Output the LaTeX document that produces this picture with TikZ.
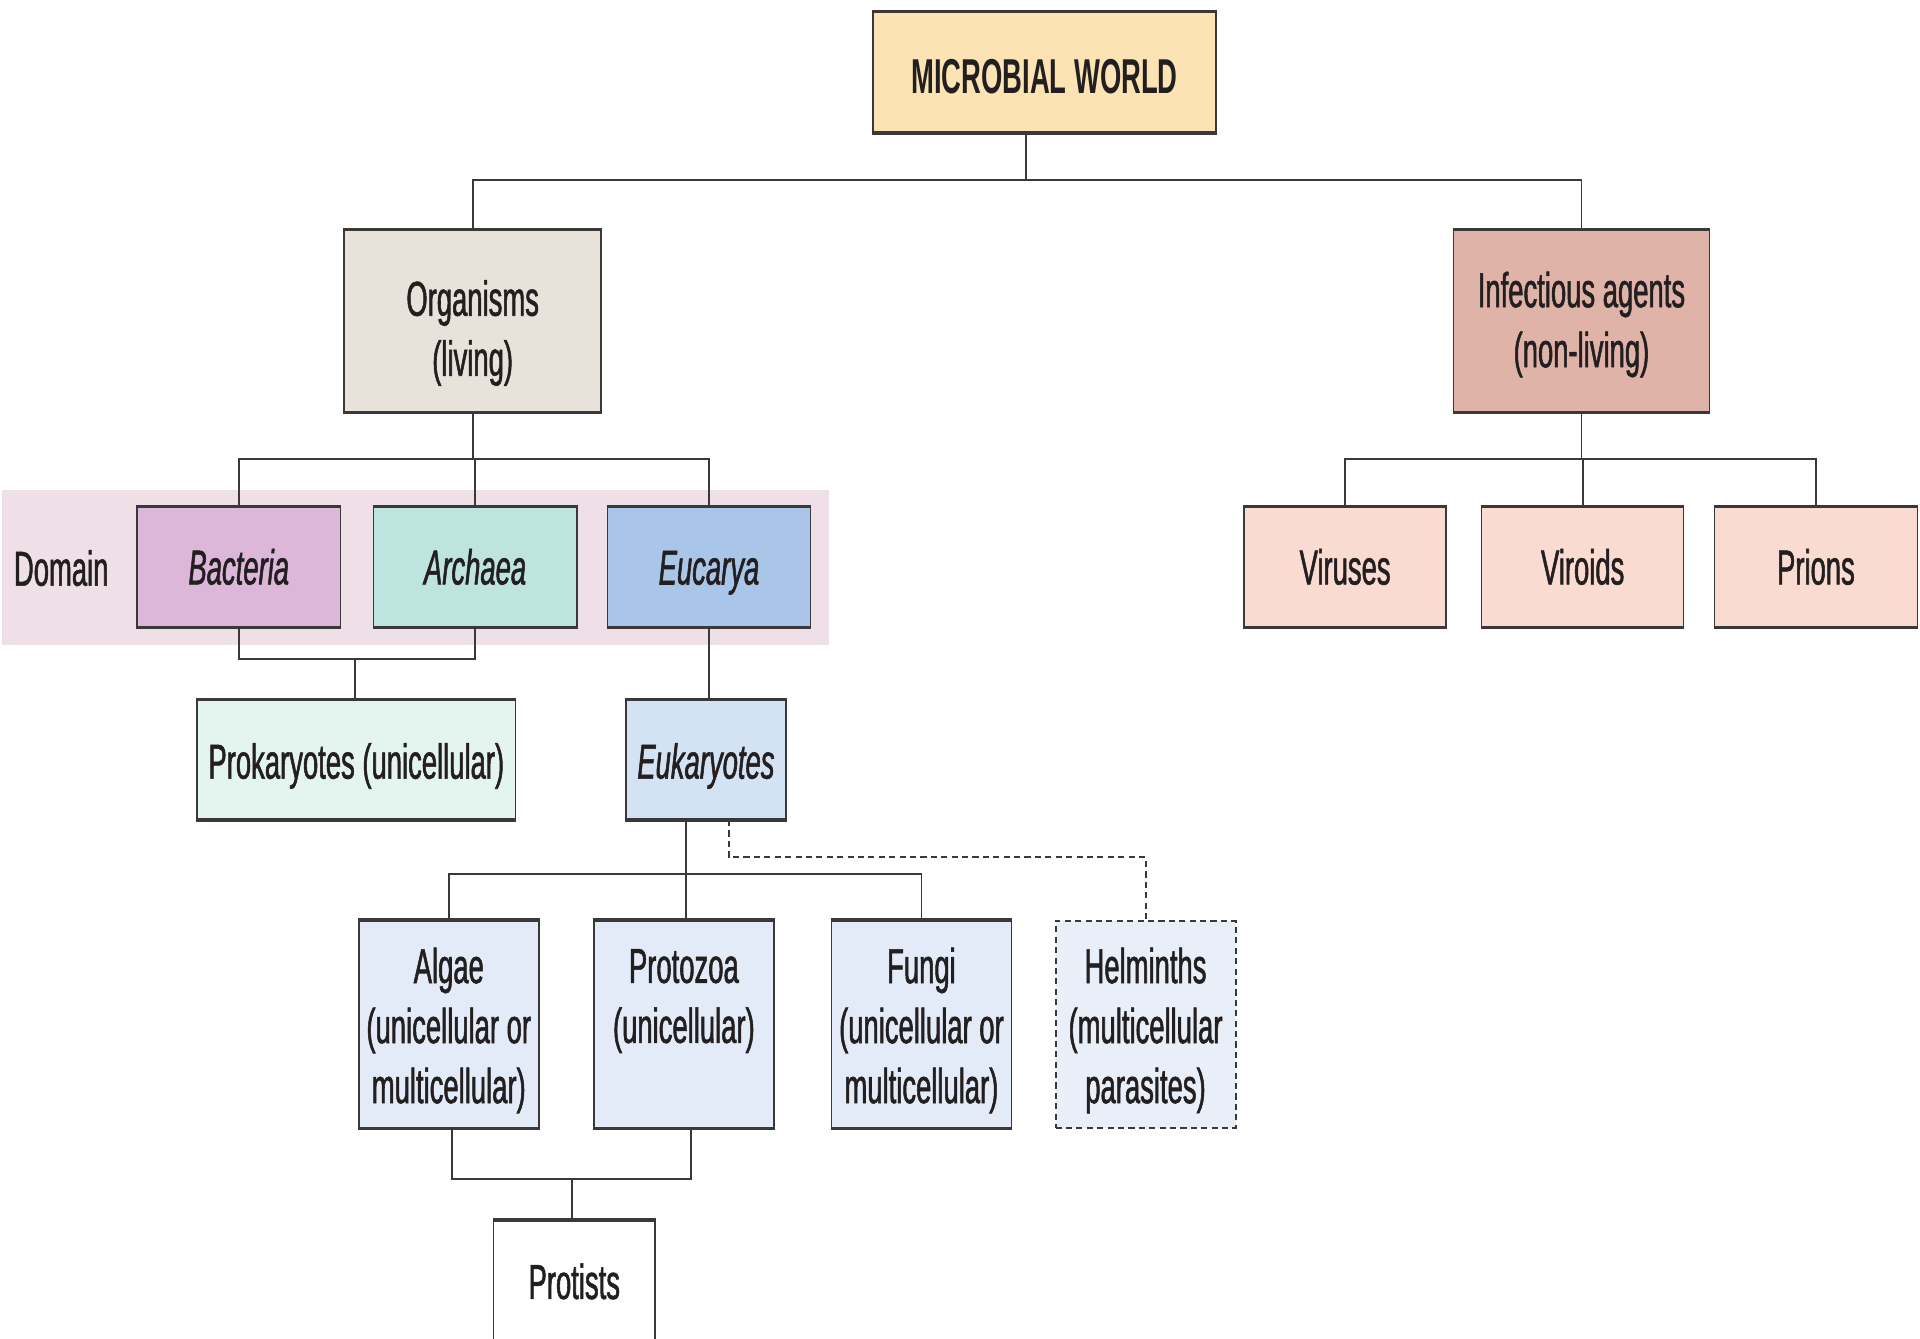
\documentclass[tikz,border=0pt]{standalone}
\usepackage{fontspec}
\setmainfont{Liberation Sans}[FakeStretch=0.56, UprightFeatures={FakeBold=1.1}, ItalicFeatures={FakeBold=1.1}]
\usetikzlibrary{calc}
\newcommand\toppad[1]{\rule{0pt}{#1pt}}
\definecolor{edge}{HTML}{3A3838}
\definecolor{ink}{HTML}{231F20}
\definecolor{cworld}{HTML}{FCE3B4}
\definecolor{corg}{HTML}{E8E2DA}
\definecolor{cinf}{HTML}{E0B3A9}
\definecolor{cvir}{HTML}{FADBD2}
\definecolor{cband}{HTML}{EEE0E6}
\definecolor{cbac}{HTML}{DDB7D9}
\definecolor{carc}{HTML}{BEE4DF}
\definecolor{ceuc}{HTML}{A9C6E8}
\definecolor{cpro}{HTML}{E4F4EF}
\definecolor{ceuk}{HTML}{D4E3F4}
\definecolor{calg}{HTML}{E2EBF7}
\definecolor{chel}{HTML}{E9EFF8}
\begin{document}
\begin{tikzpicture}[x=1pt,y=-1pt,
  box/.style={draw=edge, line width=1.3pt, inner sep=0pt, text=ink, align=center,
    font=\fontsize{40}{49}\selectfont},
  wh/.style 2 args={minimum width=#1pt, minimum height=#2pt},
  conn/.style={draw=edge, line width=1.5pt},
  dconn/.style={draw=edge, line width=1.6pt, dash pattern=on 5pt off 3.5pt},
  thickedge/.style={draw=edge, line width=2.6pt}]
\useasboundingbox (0,0) rectangle (1568,1093.5);

% domain band
\node[fill=cband, inner sep=0pt, minimum width=675pt, minimum height=127pt] (band) at (339.5,463.5) {};
\node[text=ink, font=\fontsize{40}{49}\selectfont, inner sep=0pt] (dom) at (50,464) {Domain};

% boxes
\node[box, wh={280}{98}, fill=cworld, font=\fontsize{40}{49}\selectfont\bfseries] (mw) at (853,59) {\toppad{35}MICROBIAL WORLD};
\node[box, wh={210}{148}, fill=corg] (org) at (386,262) {\toppad{49}Organisms\\(living)};
\node[box, wh={209}{148}, fill=cinf] (inf) at (1291.5,262) {\toppad{35}Infectious agents\\(non-living)};

\node[box, wh={166}{98}, fill=cbac] (bac) at (195,463) {\itshape Bacteria};
\node[box, wh={166}{98}, fill=carc] (arc) at (388,463) {\itshape Archaea};
\node[box, wh={166}{98}, fill=ceuc] (euc) at (579,463) {\toppad{37}\itshape Eucarya};

\node[box, wh={165}{98}, fill=cvir] (vir) at (1098.5,463) {Viruses};
\node[box, wh={165}{98}, fill=cvir] (vid) at (1292.5,463) {Viroids};
\node[box, wh={166}{98}, fill=cvir] (pri) at (1483,463) {Prions};

\node[box, wh={260}{97}, fill=cpro] (pro) at (291,620.5) {\toppad{39}Prokaryotes (unicellular)};
\node[box, wh={131}{97}, fill=ceuk] (euk) at (576.5,620.5) {\toppad{39}\itshape Eukaryotes};

\node[box, wh={147}{169}, fill=calg] (alg) at (366.5,836.5) {\toppad{39}Algae\\(unicellular or\\multicellular)};
\node[box, wh={147}{169}, fill=calg] (prz) at (558.5,836.5) {\toppad{45}Protozoa\\(unicellular)\\\strut};
\node[box, wh={147}{169}, fill=calg] (fun) at (752.5,836.5) {\toppad{39}Fungi\\(unicellular or\\multicellular)};
\node[box, wh={147}{169}, fill=chel, dash pattern=on 5pt off 3.5pt, line width=1.6pt] (hel) at (935.5,836.5) {\toppad{39}Helminths\\(multicellular\\parasites)};

\node[box, wh={132}{99}, fill=white] (pst) at (469,1046.5) {Protists};

% thicker top and bottom edges
\foreach \n in {mw,org,inf,bac,arc,euc,vir,vid,pri,pro,euk,alg,prz,fun,pst} {
  \draw[thickedge] (\n.north west) -- (\n.north east) (\n.south west) -- (\n.south east);
}

% junction coordinates
\coordinate (t1) at (838,147);
\coordinate (t2) at (387,375);
\coordinate (t3) at (290,538);
\coordinate (t4) at (560,714);
\coordinate (t5) at (595,700);
\coordinate (t6) at (467,963);
\coordinate (t6a) at (369,963);
\coordinate (t6b) at (564,963);
\coordinate (t7) at (1291,375);

% connectors
\draw[conn] (t1 |- mw.south) -- (t1);
\draw[conn] (org.north) |- (t1) -| (inf.north);

\draw[conn] (org.south) -- (org.south |- t2);
\draw[conn] (bac.north) |- (t2) -| (euc.north);
\draw[conn] (arc.north) -- (arc.north |- t2);

\draw[conn] (bac.south) |- (t3) -| (arc.south);
\draw[conn] (t3) -- (t3 |- pro.north);

\draw[conn] (euc.south) -- (euc.south |- euk.north);

\draw[conn] (t4 |- euk.south) -- (t4 |- prz.north);
\draw[conn] (alg.north) |- (t4) -| (fun.north);
\draw[dconn] (t5 |- euk.south) -- (t5) -| (hel.north);

\draw[conn] (t6a |- alg.south) -- (t6a) -- (t6b) -- (t6b |- prz.south);
\draw[conn] (t6) -- (t6 |- pst.north);

\draw[conn] (inf.south) -- (inf.south |- t7);
\draw[conn] (vir.north) |- (t7) -| (pri.north);
\draw[conn] (vid.north) -- (vid.north |- t7);
\end{tikzpicture}
\end{document}
